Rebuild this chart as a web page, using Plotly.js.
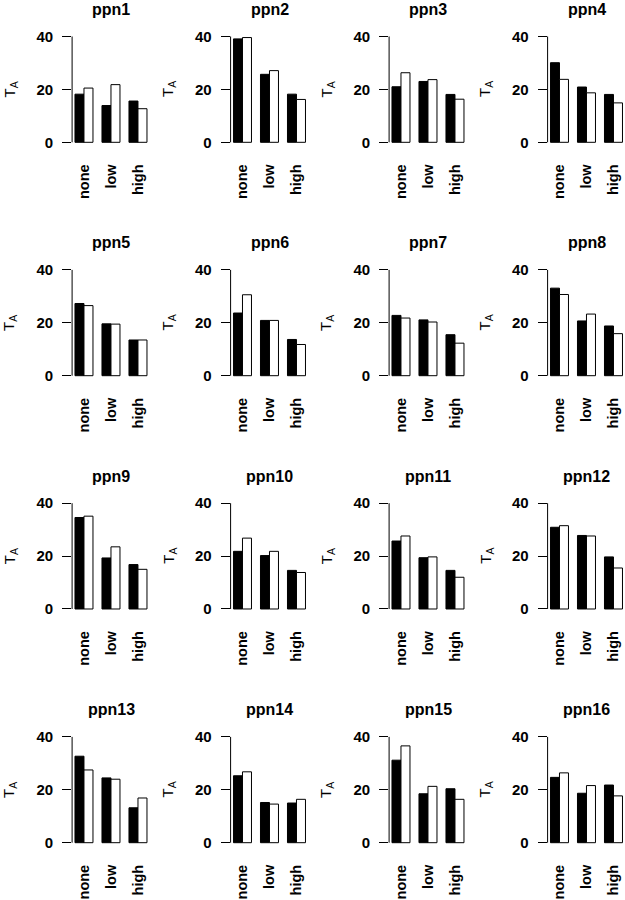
<!DOCTYPE html>
<html>
<head>
<meta charset="utf-8">
<script src="https://cdn.plot.ly/plotly-3.0.1.min.js"></script>
<style>html,body{margin:0;padding:0;background:#fff;}#chart{width:625px;height:900px;}</style>
</head>
<body>
<div id="chart"></div>
<script>
const categories = ['none', 'low', 'high'];
const panelNames = ['ppn1','ppn2','ppn3','ppn4','ppn5','ppn6','ppn7','ppn8',
                    'ppn9','ppn10','ppn11','ppn12','ppn13','ppn14','ppn15','ppn16'];
const yTicks = [0, 20, 40];
const blackSeries = [
  [18.2, 13.9, 15.6], [39.1, 25.7, 18.2], [21.0, 23.0, 18.1], [30.1, 20.9, 18.1],
  [27.3, 19.6, 13.5], [23.7, 20.9, 13.7], [22.8, 21.1, 15.5], [33.1, 20.7, 18.8],
  [34.6, 19.3, 16.8], [21.8, 20.2, 14.6], [25.7, 19.4, 14.6], [30.9, 27.8, 19.7],
  [32.7, 24.5, 13.2], [25.3, 15.2, 15.0], [31.2, 18.5, 20.4], [24.7, 18.7, 21.8]
];
const whiteSeries = [
  [20.5, 21.8, 12.7], [39.6, 27.1, 16.2], [26.3, 23.7, 16.3], [23.8, 18.7, 14.9],
  [26.5, 19.5, 13.5], [30.6, 20.9, 11.8], [21.8, 20.3, 12.3], [30.7, 23.3, 15.9],
  [35.1, 23.5, 15.0], [26.8, 21.8, 13.8], [27.6, 19.7, 12.0], [31.5, 27.6, 15.5],
  [27.5, 24.0, 16.9], [26.8, 14.6, 16.4], [36.6, 21.3, 16.4], [26.4, 21.6, 17.7]
];

const W = 625, H = 900;
const FONT = 'Liberation Sans, Arial, Helvetica, sans-serif';
const colAxisPx = [72.1, 230.6, 389.1, 547.6];
const rowZeroPx = [142.3, 375.7, 609.0, 842.7];
const pxPerUnit = 2.645;
const panelW = 77.4;
const yLo = -1.6, yHi = 41.6;

const data = [];
const layout = {
  width: W, height: H,
  margin: {l: 0, r: 0, t: 0, b: 0},
  paper_bgcolor: '#fff', plot_bgcolor: '#fff',
  barmode: 'group', bargap: 1/3, bargroupgap: 0,
  showlegend: false,
  shapes: [], annotations: [],
  font: {family: FONT, color: '#000'}
};

for (let i = 0; i < 16; i++) {
  const r = Math.floor(i / 4), c = i % 4;
  const xa = i === 0 ? 'x' : 'x' + (i + 1);
  const ya = i === 0 ? 'y' : 'y' + (i + 1);
  const xk = i === 0 ? 'xaxis' : 'xaxis' + (i + 1);
  const yk = i === 0 ? 'yaxis' : 'yaxis' + (i + 1);
  const L = colAxisPx[c];
  const y0 = rowZeroPx[r];
  const topPx = y0 - yHi * pxPerUnit;
  const botPx = y0 - yLo * pxPerUnit;

  data.push({type: 'bar', x: categories, y: blackSeries[i], xaxis: xa, yaxis: ya,
    marker: {color: '#000', line: {color: '#000', width: 1}}, hoverinfo: 'skip'});
  data.push({type: 'bar', x: categories, y: whiteSeries[i], xaxis: xa, yaxis: ya,
    marker: {color: '#fff', line: {color: '#000', width: 1}}, hoverinfo: 'skip'});

  layout[xk] = {
    domain: [L / W, Math.min(1, (L + panelW) / W)], anchor: ya,
    type: 'category', range: [-0.44, 2.4267],
    tickangle: -90, ticks: '', showline: false, showgrid: false, zeroline: false,
    tickfont: {family: FONT, size: 14.5, weight: 'bold', color: '#000'},
    ticklabelstandoff: 14, fixedrange: true
  };
  layout[yk] = {
    domain: [1 - botPx / H, 1 - topPx / H], anchor: xa,
    range: [yLo, yHi], tickvals: yTicks, ticktext: yTicks.map(String),
    ticks: 'outside', ticklen: 9, tickwidth: 1, tickcolor: '#000',
    showline: false, showgrid: false, zeroline: false,
    tickfont: {family: FONT, size: 15, weight: 'bold', color: '#000'},
    ticklabelstandoff: 6, fixedrange: true
  };
  layout.shapes.push({type: 'line', xref: xa + ' domain', yref: ya,
    x0: 0, x1: 0, y0: 0, y1: 40, line: {color: '#000', width: 1}});

  layout.annotations.push({
    text: '<b>' + panelNames[i] + '</b>', xref: 'paper', yref: 'paper',
    x: (L + 39) / W, y: 1 - (y0 - 40 * pxPerUnit - 27) / H,
    xanchor: 'center', yanchor: 'middle', showarrow: false,
    font: {family: FONT, size: 16, color: '#000'}
  });
  layout.annotations.push({
    text: 'T<sub>A</sub>', xref: 'paper', yref: 'paper',
    x: (L - 62) / W, y: 1 - (y0 - 20 * pxPerUnit) / H,
    xanchor: 'center', yanchor: 'middle', textangle: -90, showarrow: false,
    font: {family: FONT, size: 15, color: '#000'}
  });
}

Plotly.newPlot('chart', data, layout, {staticPlot: true, displayModeBar: false});
</script>
</body>
</html>
